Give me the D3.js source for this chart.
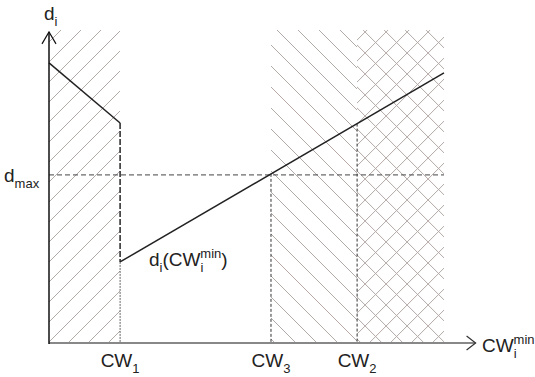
<!DOCTYPE html>
<html>
<head>
<meta charset="utf-8">
<script src="https://cdn.jsdelivr.net/npm/d3@7"></script>
<style>
  body { margin: 0; background: #fff; }
  text { font-family: "Liberation Sans", Arial, sans-serif; fill: #222; }
</style>
</head>
<body>
<div id="chart"></div>
<script>
// schematic values, in arbitrary units (x: CW_i^min, y: d_i)
var cwNames = ["CW1", "CW3", "CW2"];
var cwValues = [18, 56.2, 78];
var xMaxValue = 100;
var yMaxValue = 100;
var dMax = 53.7;
// d_i(CW_i^min) curve
var curveX = [0, 18, 18, 100];
var curveY = [89.5, 70.3, 25.9, 86.3];

var width = 535, height = 377;
var margin = { left: 49, right: 91, top: 30, bottom: 34 };

var xScale = d3.scaleLinear()
    .domain([0, xMaxValue])
    .range([margin.left, width - margin.right]);

var yScale = d3.scaleLinear()
    .domain([0, yMaxValue])
    .range([height - margin.bottom, margin.top]);

var svg = d3.select("#chart")
    .append("svg")
    .attr("width", width)
    .attr("height", height);

var hatchColor = "#b3a9a7";

//hatch lines clipped to a rect, dir = 1 for "/", -1 for "\"
function hatch(id, x0, x1, y0, y1, dir, step, offset)
{
    svg.append("clipPath")
        .attr("id", id)
        .append("rect")
        .attr("x", x0).attr("y", y0)
        .attr("width", x1 - x0).attr("height", y1 - y0);

    var h = y1 - y0;
    var starts = d3.range(x0 - h - step + offset, x1 + h + step, step);
    svg.append("g")
        .attr("clip-path", "url(#" + id + ")")
        .selectAll("line")
        .data(starts)
        .enter()
        .append("line")
        .attr("x1", function (d) { return d; })
        .attr("y1", dir > 0 ? y1 : y0)
        .attr("x2", function (d) { return d + h; })
        .attr("y2", dir > 0 ? y0 : y1)
        .attr("stroke", hatchColor)
        .attr("stroke-width", 1);
}

var yTop = yScale(yMaxValue), yBottom = yScale(0);

// left region: "/"
hatch("c1", xScale(0), xScale(cwValues[0]), yTop, yBottom, 1, 20, 12);
// CW3 .. CW2: "\"
hatch("c2", xScale(cwValues[1]), xScale(cwValues[2]), yTop, yBottom, -1, 21, 4);
// CW2 .. end: cross
hatch("c3", xScale(cwValues[2]), xScale(xMaxValue), yTop, yBottom, -1, 21, 4);
hatch("c4", xScale(cwValues[2]), xScale(xMaxValue), yTop, yBottom, 1, 21, 10);

//dmax dashed line
svg.append("line")
    .attr("x1", xScale(0))
    .attr("x2", xScale(xMaxValue))
    .attr("y1", yScale(dMax))
    .attr("y2", yScale(dMax))
    .attr("stroke", "#444")
    .attr("stroke-width", 1)
    .attr("stroke-dasharray", "5,3");

//vertical dashed lines at CW3 and CW2
var lineAt = function (x) {
    var i = d3.bisectRight(curveX, x) - 1;
    i = Math.min(Math.max(i, 0), curveX.length - 2);
    var t = (x - curveX[i]) / (curveX[i + 1] - curveX[i]);
    return curveY[i] + t * (curveY[i + 1] - curveY[i]);
};

svg.selectAll(".vcw")
    .data([cwValues[1], cwValues[2]])
    .enter()
    .append("line")
    .attr("x1", function (d) { return xScale(d); })
    .attr("x2", function (d) { return xScale(d); })
    .attr("y1", function (d) { return yScale(lineAt(d)); })
    .attr("y2", yScale(0))
    .attr("stroke", "#333")
    .attr("stroke-width", 1)
    .attr("stroke-dasharray", "3,2");

//CW1: dotted below the jump
svg.append("line")
    .attr("x1", xScale(cwValues[0]))
    .attr("x2", xScale(cwValues[0]))
    .attr("y1", yScale(curveY[2]))
    .attr("y2", yScale(0))
    .attr("stroke", "#666")
    .attr("stroke-width", 1)
    .attr("stroke-dasharray", "2,1");

//the jump, darker dashes
svg.append("line")
    .attr("x1", xScale(cwValues[0]))
    .attr("x2", xScale(cwValues[0]))
    .attr("y1", yScale(curveY[1]))
    .attr("y2", yScale(curveY[2]))
    .attr("stroke", "#333")
    .attr("stroke-width", 1.6)
    .attr("stroke-dasharray", "6,2");

//curve
var line = d3.line()
    .x(function (d) { return xScale(d[0]); })
    .y(function (d) { return yScale(d[1]); });

svg.append("path")
    .datum([[curveX[0], curveY[0]], [curveX[1], curveY[1]]])
    .attr("d", line)
    .attr("fill", "none")
    .attr("stroke", "#222")
    .attr("stroke-width", 1.5);

svg.append("path")
    .datum([[curveX[2], curveY[2]], [curveX[3], curveY[3]]])
    .attr("d", line)
    .attr("fill", "none")
    .attr("stroke", "#222")
    .attr("stroke-width", 1.5);

//x axis (gray) with open arrow
var xEnd = xScale(108);
svg.append("line")
    .attr("x1", xScale(0))
    .attr("x2", xEnd)
    .attr("y1", yScale(0))
    .attr("y2", yScale(0))
    .attr("stroke", "#888")
    .attr("stroke-width", 2);
svg.append("path")
    .attr("d", "M" + (xEnd - 9) + "," + (yScale(0) - 7) + "L" + xEnd + "," + yScale(0) + "L" + (xEnd - 9) + "," + (yScale(0) + 7))
    .attr("fill", "none")
    .attr("stroke", "#333")
    .attr("stroke-width", 1.2);

//y axis with open arrow
var yEnd = yScale(99.4);
svg.append("line")
    .attr("x1", xScale(0))
    .attr("x2", xScale(0))
    .attr("y1", yScale(0) + 1)
    .attr("y2", yEnd)
    .attr("stroke", "#111")
    .attr("stroke-width", 1.5);
svg.append("path")
    .attr("d", "M" + (xScale(0) - 7) + "," + (yEnd + 12) + "L" + xScale(0) + "," + yEnd + "L" + (xScale(0) + 7) + "," + (yEnd + 12))
    .attr("fill", "none")
    .attr("stroke", "#111")
    .attr("stroke-width", 1.2);

//labels
function subLabel(x, y, main, sub, sup, anchor)
{
    var t = svg.append("text")
        .attr("x", x)
        .attr("y", y)
        .attr("font-size", 19)
        .attr("text-anchor", anchor || "start");
    t.append("tspan").text(main);
    t.append("tspan").attr("font-size", 13).attr("dy", 6).text(sub);
    if (sup) {
        t.append("tspan").attr("font-size", 13).attr("dx", -3).attr("dy", -14).text(sup);
    }
    return t;
}

subLabel(44, 20, "d", "i");
subLabel(4, 182, "d", "max");
subLabel(xScale(cwValues[0]), 367, "CW", "1", null, "middle");
subLabel(xScale(cwValues[1]), 367, "CW", "3", null, "middle");
subLabel(xScale(cwValues[2]), 367, "CW", "2", null, "middle");
subLabel(482, 352, "CW", "i", "min");

//d_i(CW_i^min)
var lab = svg.append("text")
    .attr("x", 149)
    .attr("y", 266)
    .attr("font-size", 19);
lab.append("tspan").text("d");
lab.append("tspan").attr("font-size", 13).attr("dy", 6).text("i");
lab.append("tspan").attr("dy", -6).text("(CW");
lab.append("tspan").attr("font-size", 13).attr("dy", 6).text("i");
lab.append("tspan").attr("font-size", 13).attr("dx", -3).attr("dy", -14).text("min");
lab.append("tspan").attr("dy", 8).text(")");
</script>
</body>
</html>
